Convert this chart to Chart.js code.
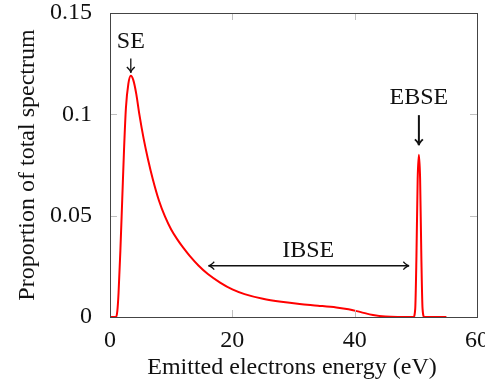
<!DOCTYPE html>
<html>
<head>
<meta charset="utf-8">
<script src="https://cdn.jsdelivr.net/npm/chart.js@4/dist/chart.umd.min.js"></script>
<style>
  html, body { margin: 0; padding: 0; background: #fff; }
  #wrap { width: 485px; height: 383px; }
</style>
</head>
<body>
<div id="wrap"><canvas id="spectrum" width="485" height="383"></canvas></div>
<script>
// spectrum
const energyEV = [0, 0.8, 1.0, 1.2, 1.4, 1.7, 2.0, 2.3, 2.6, 3.0, 3.4, 3.8, 4.3, 4.8, 5.5, 6.2, 7.0, 8.0, 9.0, 10.0, 11.0, 12.0, 13.0, 14.5, 16.0, 18.0, 20.0, 22.0, 25.0, 28.0, 31.0, 34.0, 37.0, 39.0, 41.0, 43.0, 45.0, 47.0, 49.6, 49.9, 50.1, 50.3, 50.5, 50.7, 50.9, 51.1, 51.4, 55.0];
const proportion = [0, 0, 0, 0.003, 0.012, 0.033, 0.058, 0.083, 0.103, 0.115, 0.119, 0.117, 0.110, 0.100, 0.088, 0.078, 0.068, 0.0575, 0.0495, 0.0432, 0.0383, 0.0341, 0.0303, 0.0253, 0.0212, 0.0170, 0.0136, 0.0113, 0.0090, 0.0075, 0.0064, 0.0056, 0.0047, 0.0038, 0.0024, 0.0010, 0.0002, 0, 0, 0.004, 0.03, 0.068, 0.080, 0.068, 0.03, 0.004, 0, 0];

const xTicks = [0, 20, 40, 60];
const yTicks = [0, 0.05, 0.1, 0.15];

const xTitle = 'Emitted electrons energy (eV)';
const yTitle = 'Proportion of total spectrum';

const FONT = '"Liberation Serif", "DejaVu Serif", serif';
const FSIZE = 24;

// small open arrow head at (x,y) pointing along angle
function arrowHead(ctx, x, y, angle, size) {
    ctx.beginPath();
    ctx.moveTo(x - size * Math.cos(angle - 0.6), y - size * Math.sin(angle - 0.6));
    ctx.quadraticCurveTo(x - size * 0.3 * Math.cos(angle), y - size * 0.3 * Math.sin(angle), x, y);
    ctx.quadraticCurveTo(x - size * 0.3 * Math.cos(angle), y - size * 0.3 * Math.sin(angle),
        x - size * Math.cos(angle + 0.6), y - size * Math.sin(angle + 0.6));
    ctx.stroke();
}

function arrow(ctx, x1, y1, x2, y2, width, both) {
    ctx.save();
    ctx.strokeStyle = '#111';
    ctx.lineWidth = width;
    ctx.beginPath();
    ctx.moveTo(x1, y1);
    ctx.lineTo(x2, y2);
    ctx.stroke();
    const a = Math.atan2(y2 - y1, x2 - x1);
    arrowHead(ctx, x2, y2, a, 7);
    if (both) arrowHead(ctx, x1, y1, a + Math.PI, 7);
    ctx.restore();
}

const framePlugin = {
    id: 'frame',
    afterDatasetsDraw(chart) {
        const { ctx, chartArea: a, scales: { x, y } } = chart;
        ctx.save();
        // inner ticks
        ctx.strokeStyle = '#c0c0c0';
        ctx.lineWidth = 1;
        xTicks.forEach(v => {
            const px = Math.round(x.getPixelForValue(v)) + 0.5;
            ctx.beginPath();
            ctx.moveTo(px, a.bottom); ctx.lineTo(px, a.bottom - 7);
            ctx.moveTo(px, a.top); ctx.lineTo(px, a.top + 7);
            ctx.stroke();
        });
        yTicks.forEach(v => {
            const py = Math.round(y.getPixelForValue(v)) + 0.5;
            ctx.beginPath();
            ctx.moveTo(a.left, py); ctx.lineTo(a.left + 7, py);
            ctx.moveTo(a.right, py); ctx.lineTo(a.right - 7, py);
            ctx.stroke();
        });
        // box
        ctx.strokeStyle = '#444';
        ctx.strokeRect(Math.round(a.left) + 0.5, Math.round(a.top) + 0.5,
            Math.round(a.right - a.left), Math.round(a.bottom - a.top));

        // labels
        ctx.fillStyle = '#111';
        ctx.font = FSIZE + 'px ' + FONT;
        ctx.textAlign = 'center';
        ctx.textBaseline = 'middle';
        ctx.fillText('SE', x.getPixelForValue(3.4), y.getPixelForValue(0.1357));
        arrow(ctx, x.getPixelForValue(3.4), y.getPixelForValue(0.1276),
            x.getPixelForValue(3.4), y.getPixelForValue(0.1205), 1.3, false);

        ctx.fillText('EBSE', x.getPixelForValue(50.5), y.getPixelForValue(0.108));
        arrow(ctx, x.getPixelForValue(50.5), y.getPixelForValue(0.0996),
            x.getPixelForValue(50.5), y.getPixelForValue(0.0848), 2, false);

        ctx.fillText('IBSE', x.getPixelForValue(32.4), y.getPixelForValue(0.0326));
        arrow(ctx, x.getPixelForValue(16.1), y.getPixelForValue(0.0253),
            x.getPixelForValue(48.9), y.getPixelForValue(0.0253), 1.3, true);

        // axis titles
        ctx.fillText(xTitle, 292, 368);
        ctx.translate(28, 165);
        ctx.rotate(-Math.PI / 2);
        ctx.fillText(yTitle, 0, 0);
        ctx.restore();
    }
};

new Chart(document.getElementById('spectrum'), {
    type: 'line',
    data: {
        datasets: [{
            data: energyEV.map((e, i) => ({ x: e, y: proportion[i] })),
            borderColor: '#ff0000',
            borderWidth: 2,
            pointRadius: 0,
            cubicInterpolationMode: 'monotone',
            fill: false
        }]
    },
    options: {
        responsive: false,
        animation: false,
        layout: { padding: { top: 13, right: 8, left: 0, bottom: 0 } },
        plugins: { legend: { display: false }, tooltip: { enabled: false } },
        scales: {
            x: {
                type: 'linear',
                min: 0, max: 60,
                afterBuildTicks: s => { s.ticks = xTicks.map(v => ({ value: v })); },
                afterFit: s => { s.height = 66; s.paddingLeft = 0; s.paddingRight = 0; },
                grid: { display: false },
                border: { display: false },
                ticks: { padding: 1, color: '#111', font: { family: FONT, size: FSIZE }, maxRotation: 0 }
            },
            y: {
                min: 0, max: 0.15,
                afterBuildTicks: s => { s.ticks = yTicks.map(v => ({ value: v })); },
                afterFit: s => { s.width = 110; s.paddingTop = 0; s.paddingBottom = 0; },
                grid: { display: false },
                border: { display: false },
                ticks: {
                    padding: 10, color: '#111', font: { family: FONT, size: FSIZE },
                    callback: v => String(Math.round(v * 100) / 100)
                }
            }
        }
    },
    plugins: [framePlugin]
});
</script>
</body>
</html>
